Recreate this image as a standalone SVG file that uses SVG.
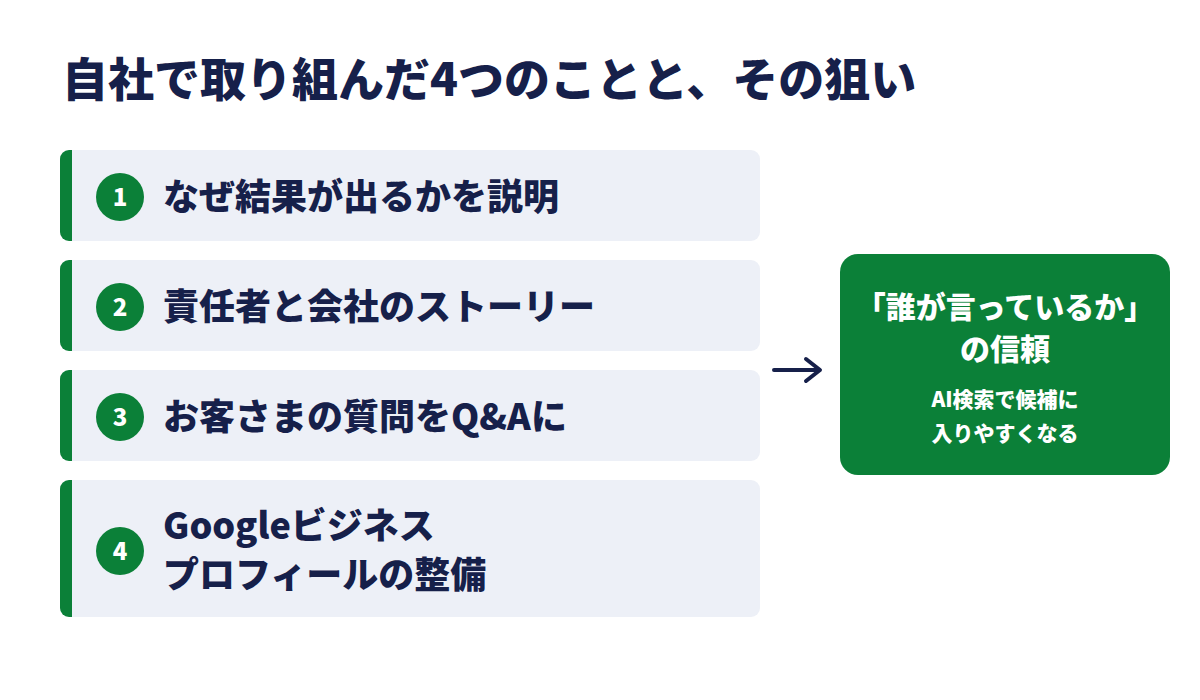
<svg xmlns="http://www.w3.org/2000/svg" width="1200" height="700" viewBox="0 0 1200 700">
<defs>
<style>
text{font-family:"Noto Sans CJK JP","Noto Sans",sans-serif;font-weight:900}
.card{fill:#edf0f7}
.bar{fill:#0b8038}
.num{fill:#0b8038}
.nt{fill:#fff;font-size:24px;text-anchor:middle}
.lt{fill:#16204a;font-size:36px}
</style>
<clipPath id="c1"><rect x="60" y="150" width="700" height="91" rx="9"/></clipPath>
<clipPath id="c2"><rect x="60" y="260" width="700" height="91" rx="9"/></clipPath>
<clipPath id="c3"><rect x="60" y="370" width="700" height="91" rx="9"/></clipPath>
<clipPath id="c4"><rect x="60" y="480" width="700" height="137" rx="9"/></clipPath>
</defs>
<rect width="1200" height="700" fill="#fff"/>
<text x="62" y="96" font-size="46" fill="#16204a">自社で取り組んだ4つのことと、その狙い</text>
<g id="n1" clip-path="url(#c1)"><rect class="card" x="60" y="150" width="700" height="91"/><rect class="bar" x="60" y="150" width="12" height="91"/><circle class="num" cx="120" cy="197" r="24"/><text class="nt" x="120" y="206">1</text><text class="lt" x="163" y="210">なぜ結果が出るかを説明</text></g>
<g id="n2" clip-path="url(#c2)"><rect class="card" x="60" y="260" width="700" height="91"/><rect class="bar" x="60" y="260" width="12" height="91"/><circle class="num" cx="120" cy="307" r="24"/><text class="nt" x="120" y="316">2</text><text class="lt" x="163" y="320">責任者と会社のストーリー</text></g>
<g id="n3" clip-path="url(#c3)"><rect class="card" x="60" y="370" width="700" height="91"/><rect class="bar" x="60" y="370" width="12" height="91"/><circle class="num" cx="120" cy="417" r="24"/><text class="nt" x="120" y="426">3</text><text class="lt" x="163" y="430">お客さまの質問をQ&amp;Aに</text></g>
<g id="n4" clip-path="url(#c4)"><rect class="card" x="60" y="480" width="700" height="137"/><rect class="bar" x="60" y="480" width="12" height="137"/><circle class="num" cx="120" cy="551" r="24"/><text class="nt" x="120" y="560">4</text><text class="lt" x="163" y="539">Googleビジネス</text><text class="lt" x="163" y="588">プロフィールの整備</text></g>
<g id="connectors"><path d="M774 370 H818 M806 359 L820 370 L806 381" fill="none" stroke="#16204a" stroke-width="4" stroke-linecap="round" stroke-linejoin="round"/></g>
<g id="result"><rect x="840" y="254" width="330" height="221" rx="18" fill="#0b8038"/>
<text x="1005" y="318" font-size="30" fill="#fff" text-anchor="middle">「誰が言っているか」</text>
<text x="1005" y="360" font-size="30" fill="#fff" text-anchor="middle">の信頼</text>
<text x="1005" y="407" font-size="21" fill="#fff" text-anchor="middle">AI検索で候補に</text>
<text x="1005" y="441" font-size="21" fill="#fff" text-anchor="middle">入りやすくなる</text></g>
</svg>
